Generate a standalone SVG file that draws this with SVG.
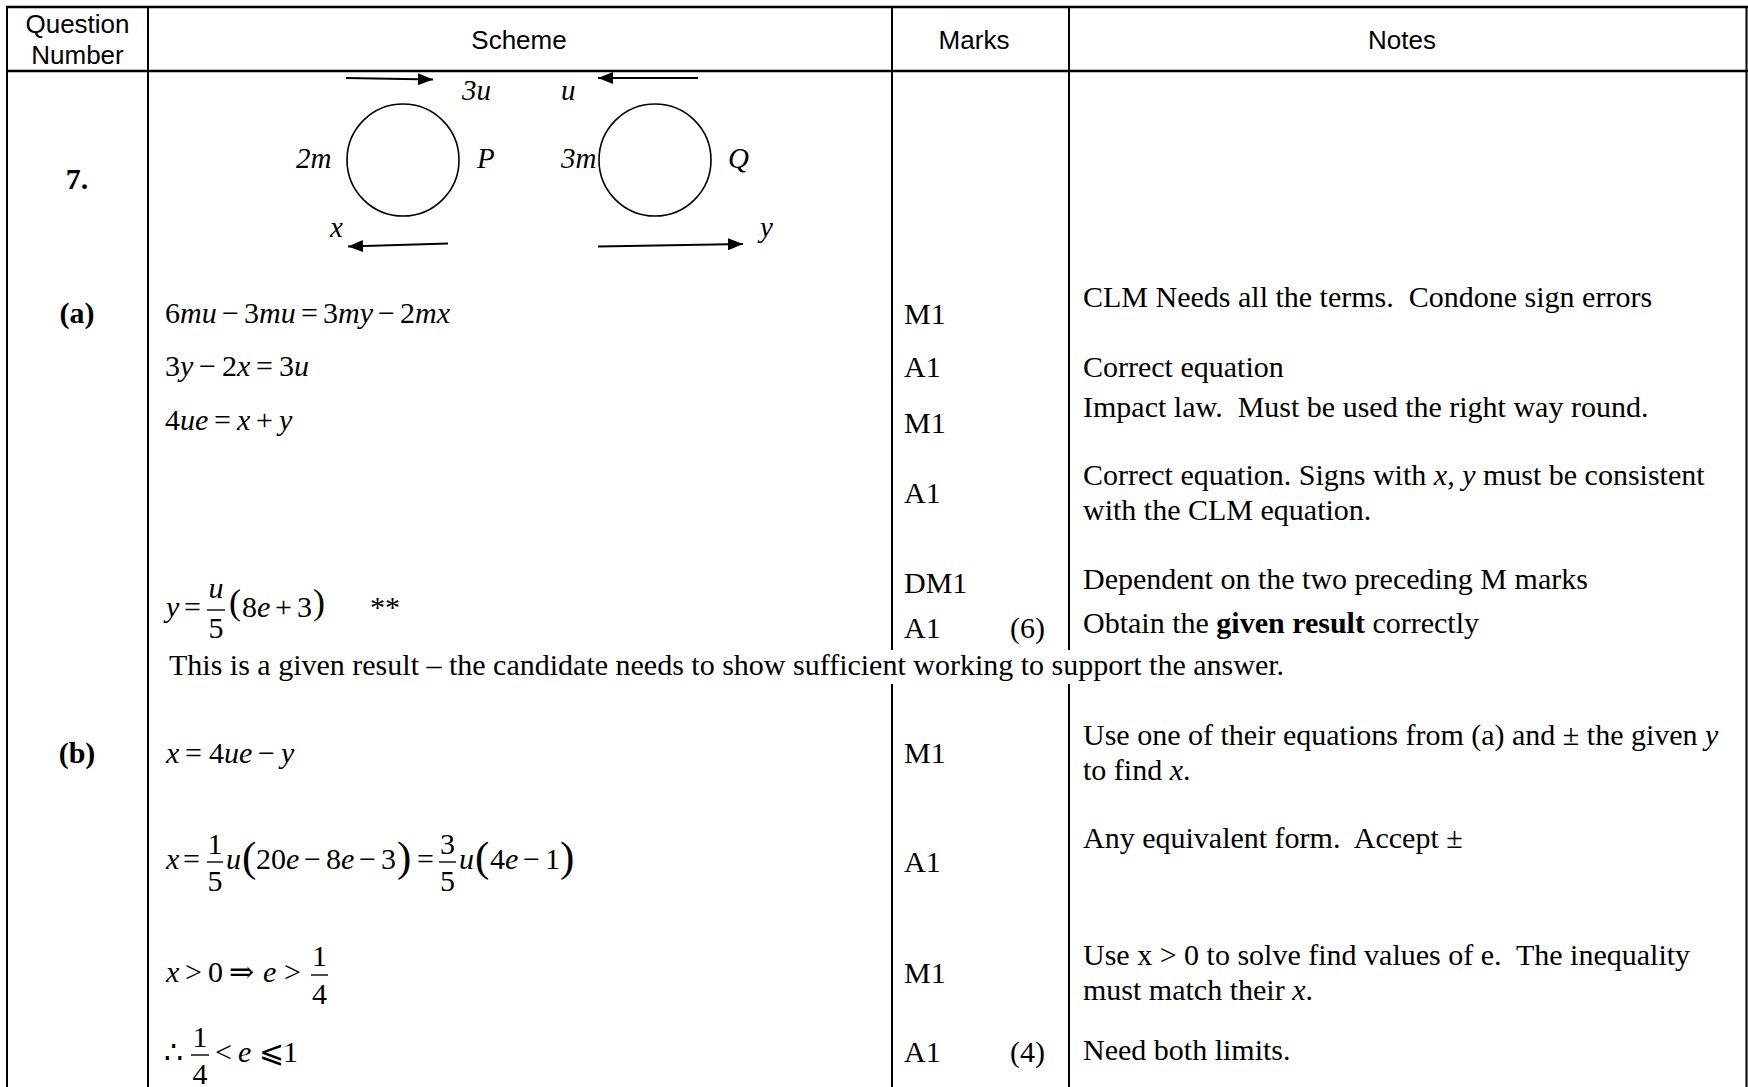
<svg xmlns="http://www.w3.org/2000/svg" width="1748" height="1087" viewBox="0 0 1748 1087">
<defs>
<marker id="ah" viewBox="0 0 15 12" markerWidth="15" markerHeight="12" refX="15" refY="6" markerUnits="userSpaceOnUse" orient="auto"><path d="M0,0 L15,6 L0,12 Z" fill="#000"/></marker>
</defs>
<style>
.hd{font-family:"Liberation Sans",Arial,sans-serif;font-size:26px;fill:#000}
.t{font-family:"Liberation Serif","Times New Roman","DejaVu Serif",serif;font-size:30px;fill:#000}
.dg{font-family:"Liberation Serif","Times New Roman","DejaVu Serif",serif;font-size:29px;font-style:italic;fill:#000}
.i{font-style:italic}
.b{font-weight:bold}
.mid{text-anchor:middle}
.pl{font-size:36px}
.pb{font-size:43px}
.gh{stroke:#000;stroke-width:2.5}
.gv{stroke:#000;stroke-width:2}
.ball{fill:none;stroke:#000;stroke-width:1.6}
.arr{stroke:#000;stroke-width:2;fill:none;marker-end:url(#ah)}
.bar{stroke:#000;stroke-width:1.4}
.ws{white-space:pre}
</style>
<rect x="0" y="0" width="1748" height="1087" fill="#fff"/>

<g id="grid">
<line class="gh" x1="6" y1="7" x2="1748" y2="7"/>
<line class="gh" x1="6" y1="71" x2="1748" y2="71"/>
<line class="gv" x1="7" y1="6" x2="7" y2="1087"/>
<line class="gv" x1="148" y1="6" x2="148" y2="1087"/>
<line class="gv" x1="892" y1="6" x2="892" y2="650"/>
<line class="gv" x1="892" y1="684" x2="892" y2="1087"/>
<line class="gv" x1="1069" y1="6" x2="1069" y2="650"/>
<line class="gv" x1="1069" y1="684" x2="1069" y2="1087"/>
<line class="gv" x1="1746.5" y1="6" x2="1746.5" y2="1087"/>
</g>

<g id="header">
<text class="hd mid" x="77.5" y="33">Question</text>
<text class="hd mid" x="77.5" y="64">Number</text>
<text class="hd mid" x="519" y="49">Scheme</text>
<text class="hd mid" x="974" y="49">Marks</text>
<text class="hd mid" x="1402" y="49">Notes</text>
</g>

<g id="labels">
<text class="t b mid" x="77" y="189">7.</text>
<text class="t b mid" x="77" y="323">(a)</text>
<text class="t b mid" x="77" y="763">(b)</text>
</g>

<g id="ball-P">
<circle class="ball" cx="403" cy="160" r="56"/>
<text class="dg" x="296" y="168">2<tspan class="i">m</tspan></text>
<text class="dg" x="477" y="168">P</text>
</g>
<g id="ball-Q">
<circle class="ball" cx="655" cy="160" r="56"/>
<text class="dg" x="561" y="168">3<tspan class="i">m</tspan></text>
<text class="dg" x="728" y="168">Q</text>
</g>
<g id="connectors">
<line class="arr" x1="346" y1="78" x2="433" y2="79.5"/>
<line class="arr" x1="698" y1="78" x2="598" y2="78"/>
<line class="arr" x1="448" y1="243.5" x2="348" y2="246.5"/>
<line class="arr" x1="598" y1="246.5" x2="743" y2="244"/>
</g>
<g id="velocity-labels">
<text class="dg" x="462" y="100">3u</text>
<text class="dg" x="561" y="100">u</text>
<text class="dg" x="330" y="237">x</text>
<text class="dg" x="760" y="237">y</text>
</g>

<g id="scheme-a">
<text class="t" y="323"><tspan x="165">6</tspan><tspan class="i">mu</tspan><tspan x="222">−</tspan><tspan x="244">3</tspan><tspan class="i">mu</tspan><tspan x="301">=</tspan><tspan x="323">3</tspan><tspan class="i">my</tspan><tspan x="378">−</tspan><tspan x="400">2</tspan><tspan class="i">mx</tspan></text>
<text class="t" y="376"><tspan x="165">3</tspan><tspan class="i">y</tspan><tspan x="199">−</tspan><tspan x="222">2</tspan><tspan class="i">x</tspan><tspan x="256">=</tspan><tspan x="279">3</tspan><tspan class="i">u</tspan></text>
<text class="t" y="430"><tspan x="165">4</tspan><tspan class="i">ue</tspan><tspan x="214">=</tspan><tspan class="i" x="237">x</tspan><tspan x="256">+</tspan><tspan class="i" x="279">y</tspan></text>
<text class="t" y="617"><tspan class="i" x="166">y</tspan><tspan x="184">=</tspan></text>
<line class="bar" x1="207" y1="610" x2="225" y2="610"/>
<text class="t i mid" x="216" y="598">u</text>
<text class="t mid" x="216" y="638">5</text>
<text class="t pl" x="229" y="614">(</text>
<text class="t" y="617"><tspan x="242">8</tspan><tspan class="i">e</tspan><tspan x="275">+</tspan><tspan x="297">3</tspan></text>
<text class="t pl" x="313" y="614">)</text>
<text class="t" x="370" y="617">**</text>
<text class="t ws" x="169" y="675" xml:space="preserve">This is a given result – the candidate needs to show sufficient working to support the answer.</text>
</g>

<g id="scheme-b">
<text class="t" y="763"><tspan class="i" x="166">x</tspan><tspan x="185">=</tspan><tspan x="209">4</tspan><tspan class="i">ue</tspan><tspan x="258">−</tspan><tspan class="i" x="281">y</tspan></text>

<text class="t" y="869"><tspan class="i" x="166">x</tspan><tspan x="183">=</tspan><tspan class="i" x="226">u</tspan></text>
<line class="bar" x1="207" y1="862" x2="223" y2="862"/>
<text class="t mid" x="215" y="854">1</text>
<text class="t mid" x="215" y="891">5</text>
<text class="t pb" x="242" y="871">(</text>
<text class="t" y="869"><tspan x="256">20</tspan><tspan class="i">e</tspan><tspan x="304">−</tspan><tspan x="326">8</tspan><tspan class="i">e</tspan><tspan x="359">−</tspan><tspan x="381">3</tspan></text>
<text class="t pb" x="397" y="871">)</text>
<text class="t" y="869"><tspan x="417">=</tspan><tspan class="i" x="459">u</tspan></text>
<line class="bar" x1="439" y1="862" x2="456" y2="862"/>
<text class="t mid" x="447.5" y="854">3</text>
<text class="t mid" x="447.5" y="891">5</text>
<text class="t pb" x="475" y="871">(</text>
<text class="t" y="869"><tspan x="490">4</tspan><tspan class="i">e</tspan><tspan x="523">−</tspan><tspan x="545">1</tspan></text>
<text class="t pb" x="560" y="871">)</text>

<text class="t" y="982"><tspan class="i" x="166">x</tspan><tspan x="185">&gt;</tspan><tspan x="208">0</tspan><tspan x="229">⇒</tspan><tspan class="i" x="263">e</tspan><tspan x="284">&gt;</tspan></text>
<line class="bar" x1="311" y1="975" x2="328" y2="975"/>
<text class="t mid" x="319.5" y="966">1</text>
<text class="t mid" x="319.5" y="1004">4</text>

<text class="t" y="1062"><tspan x="164">∴</tspan><tspan x="215">&lt;</tspan><tspan class="i" x="238">e</tspan><tspan x="259">⩽</tspan><tspan x="283">1</tspan></text>
<line class="bar" x1="191" y1="1055" x2="209" y2="1055"/>
<text class="t mid" x="200" y="1047">1</text>
<text class="t mid" x="200" y="1084">4</text>
</g>

<g id="marks">
<text class="t" x="904" y="324">M1</text>
<text class="t" x="904" y="377">A1</text>
<text class="t" x="904" y="433">M1</text>
<text class="t" x="904" y="503">A1</text>
<text class="t" x="904" y="593">DM1</text>
<text class="t" x="904" y="638">A1</text>
<text class="t" x="1010" y="638">(6)</text>
<text class="t" x="904" y="763">M1</text>
<text class="t" x="904" y="872">A1</text>
<text class="t" x="904" y="983">M1</text>
<text class="t" x="904" y="1062">A1</text>
<text class="t" x="1010" y="1062">(4)</text>
</g>

<g id="notes">
<text class="t ws" x="1083" y="307" xml:space="preserve">CLM Needs all the terms.  Condone sign errors</text>
<text class="t" x="1083" y="377">Correct equation</text>
<text class="t ws" x="1083" y="417" xml:space="preserve">Impact law.  Must be used the right way round.</text>
<text class="t ws" x="1083" y="485" xml:space="preserve">Correct equation. Signs with <tspan class="i">x</tspan>, <tspan class="i">y</tspan> must be consistent</text>
<text class="t" x="1083" y="520">with the CLM equation.</text>
<text class="t" x="1083" y="589">Dependent on the two preceding M marks</text>
<text class="t ws" x="1083" y="633" xml:space="preserve">Obtain the <tspan class="b">given result</tspan> correctly</text>
<text class="t ws" x="1083" y="745" xml:space="preserve">Use one of their equations from (a) and ± the given <tspan class="i">y</tspan></text>
<text class="t ws" x="1083" y="780" xml:space="preserve">to find <tspan class="i">x</tspan>.</text>
<text class="t ws" x="1083" y="848" xml:space="preserve">Any equivalent form.  Accept ±</text>
<text class="t ws" x="1083" y="965" xml:space="preserve">Use x &gt; 0 to solve find values of e.  The inequality</text>
<text class="t ws" x="1083" y="1000" xml:space="preserve">must match their <tspan class="i">x</tspan>.</text>
<text class="t" x="1083" y="1060">Need both limits.</text>
</g>
</svg>
